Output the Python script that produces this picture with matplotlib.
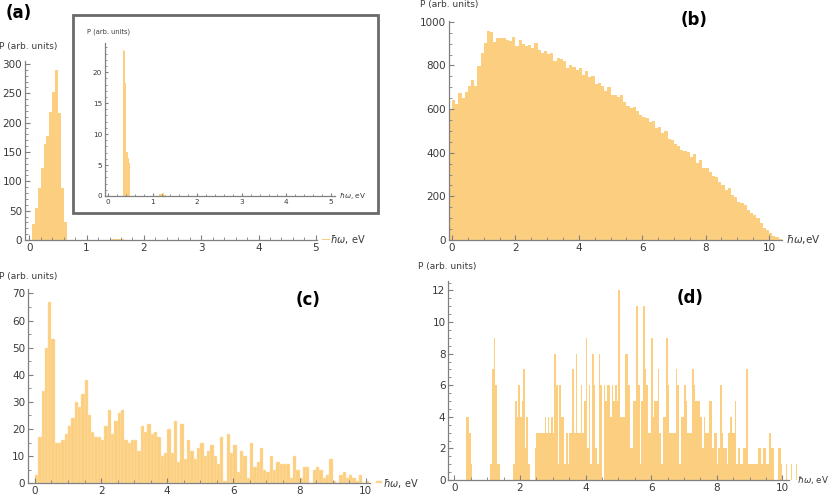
import numpy as np
import matplotlib
matplotlib.use('Agg')
import matplotlib.pyplot as plt
from matplotlib.patches import Rectangle
from matplotlib.ticker import MultipleLocator

W, H = 831, 495
BAR = '#fccf80'
EDGE = '#fde2b0'
AXC = '#808080'
TXT = '#3a3a3a'

# (a) main histogram, bins of 0.05 eV
a_start, a_width = 0.05, 0.05
a_vals = [27, 55, 88, 122, 163, 177, 218, 253, 290, 216, 89, 31]
a_tail_edges = [1.40, 1.45, 1.50, 1.55, 1.60, 5.10, 5.15, 5.20]
a_tail_vals = [1, 1, 1, 1, 1, 2, 2, 2]

# (a) inset, bins of 0.025 eV
ins_start, ins_width = 0.34, 0.025
ins_vals = [23.5, 23.4, 18.3, 7.1, 6.2, 5.3]
ins_tail_edges = [1.15, 1.20, 1.25]
ins_tail_vals = [0.3, 0.45, 0.2]

# (b) bins of 0.1 eV
b_start, b_width = -0.1, 0.1
b_vals = [598, 641, 623, 672, 649, 678, 705, 733, 708, 797,
          855, 905, 957, 951, 908, 925, 925, 925, 918, 912,
          930, 890, 915, 900, 890, 893, 880, 902, 872, 858,
          865, 852, 855, 820, 835, 828, 822, 790, 800, 795,
          779, 790, 756, 775, 745, 751, 717, 720, 705, 684,
          700, 664, 664, 656, 664, 634, 614, 603, 611, 590,
          573, 565, 557, 542, 547, 511, 516, 489, 501, 461,
          458, 440, 432, 412, 409, 405, 382, 394, 351, 366,
          328, 328, 310, 295, 290, 267, 252, 229, 237, 206,
          195, 176, 171, 160, 137, 122, 115, 99, 79, 53,
          46, 31, 20, 12, 6]

# (c) bins of 0.1 eV
c_start, c_width = 0.0, 0.1
c_vals = [3, 17, 34, 50, 67, 53, 15, 15, 16, 18,
          21, 24, 30, 28, 33, 38, 25, 19, 17, 17,
          16, 21, 27, 18, 23, 26, 27, 16, 15, 16,
          16, 12, 21, 19, 22, 18, 19, 17, 10, 11,
          20, 11, 23, 8, 22, 9, 16, 12, 9, 13,
          15, 10, 12, 14, 10, 7, 17, 1, 18, 11,
          14, 4, 12, 10, 2, 15, 6, 8, 13, 5,
          4, 10, 5, 8, 7, 7, 7, 2, 10, 5,
          2, 6, 6, 0, 5, 6, 5, 2, 3, 9,
          1, 0, 3, 4, 2, 3, 2, 1, 3, 0,
          1, 0, 0, 1, 1]

# (d) bins of 0.05 eV
d_start, d_width = 0.0, 0.05
d_vals = [0, 0, 0, 0, 0, 0, 0, 4, 4, 3,
          1, 0, 0, 0, 0, 0, 0, 0, 0, 0,
          0, 0, 1, 7, 9, 6, 1, 1, 0, 0,
          0, 0, 0, 0, 0, 0, 1, 5, 4, 6,
          4, 5, 7, 2, 4, 1, 0, 0, 0, 2,
          3, 3, 3, 3, 3, 4, 3, 4, 3, 4,
          3, 8, 6, 1, 6, 4, 4, 1, 3, 1,
          3, 3, 7, 3, 8, 3, 3, 6, 3, 5,
          9, 2, 6, 1, 8, 6, 2, 1, 8, 6,
          0, 6, 5, 6, 6, 4, 6, 5, 6, 5,
          12, 4, 4, 4, 8, 8, 6, 2, 2, 5,
          5, 11, 6, 1, 5, 11, 7, 6, 3, 3,
          9, 4, 5, 5, 7, 3, 1, 4, 4, 9,
          6, 3, 3, 3, 3, 7, 6, 1, 4, 4,
          6, 5, 3, 3, 3, 7, 6, 5, 5, 5,
          4, 2, 4, 3, 3, 5, 5, 2, 3, 3,
          1, 2, 6, 3, 2, 2, 1, 3, 4, 3,
          3, 5, 1, 2, 1, 1, 2, 2, 7, 1,
          1, 1, 1, 1, 1, 2, 2, 1, 2, 2,
          1, 1, 3, 2, 2, 0, 0, 2, 2, 1,
          0, 0, 1, 0, 0, 1, 0, 0, 1, 0]

xlabel = r'$\hbar\omega$, eV'
ylabel = 'P (arb. units)'


def edges(start, width, vals):
    return start + width * np.arange(len(vals))


def px_axes(fig, l, t, r, b, **kw):
    return fig.add_axes([l / W, 1 - b / H, (r - l) / W, (b - t) / H], **kw)


def ftext(fig, x, y, s, **kw):
    fig.text(x / W, 1 - y / H, s, **kw)


def style(ax, xmaj, xmin, ymaj, ymin, fs=7.5, tl=3.5):
    for s in ['top', 'right']:
        ax.spines[s].set_visible(False)
    for s in ['left', 'bottom']:
        ax.spines[s].set_color(AXC)
        ax.spines[s].set_linewidth(0.9)
    ax.xaxis.set_major_locator(MultipleLocator(xmaj))
    ax.xaxis.set_minor_locator(MultipleLocator(xmin))
    ax.yaxis.set_major_locator(MultipleLocator(ymaj))
    if ymin:
        ax.yaxis.set_minor_locator(MultipleLocator(ymin))
    ax.tick_params(which='major', direction='in', length=tl, width=0.8,
                   color=AXC, labelsize=fs, labelcolor=TXT, pad=2)
    ax.tick_params(which='minor', direction='in', length=tl * 0.55,
                   width=0.6, color=AXC)
    ax.set_facecolor('none')


def hist(ax, start, width, vals, lw=0.0):
    ax.bar(edges(start, width, vals), vals, width=width, align='edge',
           color=BAR, edgecolor=EDGE, linewidth=lw, clip_on=False, zorder=1)


fig = plt.figure(figsize=(W / 100, H / 100), dpi=100)

# ---- (a) ----
axa = px_axes(fig, 25, 61, 317, 240)
hist(axa, a_start, a_width, a_vals)
axa.bar(a_tail_edges, a_tail_vals, width=0.05, align='edge', color=BAR,
        linewidth=0, clip_on=False)
axa.set_xlim(-0.075, 5.02)
axa.set_ylim(0, 305)
style(axa, 1, 0.2, 50, 10)
ftext(fig, -1, 47, ylabel, fontsize=6.5, color=TXT, va='center')
ftext(fig, 330, 240, xlabel, fontsize=7, color=TXT, va='center')
ftext(fig, 6, 13, '(a)', fontsize=12, fontweight='bold', va='center')

# inset frame
fig.patches.append(Rectangle((73 / W, 1 - 213 / H), 305 / W, 198 / H,
                             transform=fig.transFigure, facecolor='white',
                             edgecolor='#6a6a6a', linewidth=2, zorder=1))
axi = px_axes(fig, 105, 43, 335, 196, zorder=2)
hist(axi, ins_start, ins_width, ins_vals)
axi.bar(ins_tail_edges, ins_tail_vals, width=0.05, align='edge', color=BAR,
        linewidth=0)
axi.set_xlim(-0.067, 5.09)
axi.set_ylim(0, 24.7)
style(axi, 1, 0.2, 5, 1, fs=5.2, tl=2.5)
ftext(fig, 87, 32, ylabel, fontsize=4.8, color=TXT, va='center', zorder=3)
ftext(fig, 339, 196, xlabel, fontsize=5.2, color=TXT, va='center', zorder=3)

# ---- (b) ----
axb = px_axes(fig, 449, 20.7, 781.7, 240)
hist(axb, b_start, b_width, b_vals)
axb.set_xlim(-0.095, 10.4)
axb.set_ylim(0, 1005)
style(axb, 2, 0.5, 200, 50)
ftext(fig, 420, 5, ylabel, fontsize=6.5, color=TXT, va='center')
ftext(fig, 786, 240, r'$\hbar\omega$,eV', fontsize=7.5, color=TXT, va='center')
ftext(fig, 694, 20, '(b)', fontsize=12, fontweight='bold', va='center',
      ha='center')

# ---- (c) ----
axc = px_axes(fig, 28, 289.3, 370, 483.3)
hist(axc, c_start, c_width, c_vals, lw=0.3)
axc.set_xlim(-0.21, 10.13)
axc.set_ylim(0, 71.5)
style(axc, 2, 0.5, 10, 5)
ftext(fig, -1, 276, ylabel, fontsize=6.5, color=TXT, va='center')
ftext(fig, 383, 483, xlabel, fontsize=7, color=TXT, va='center')
ftext(fig, 308, 300, '(c)', fontsize=12, fontweight='bold', va='center',
      ha='center')

# ---- (d) ----
axd = px_axes(fig, 448.3, 281, 789, 480)
hist(axd, d_start, d_width, d_vals)
axd.set_xlim(-0.183, 10.2)
axd.set_ylim(0, 12.6)
style(axd, 2, 0.5, 2, 0.5)
ftext(fig, 418, 266, ylabel, fontsize=6.5, color=TXT, va='center')
ftext(fig, 797, 480, xlabel, fontsize=6.3, color=TXT, va='center')
ftext(fig, 690, 298, '(d)', fontsize=12, fontweight='bold', va='center',
      ha='center')

fig.savefig('out.png', dpi=100)
